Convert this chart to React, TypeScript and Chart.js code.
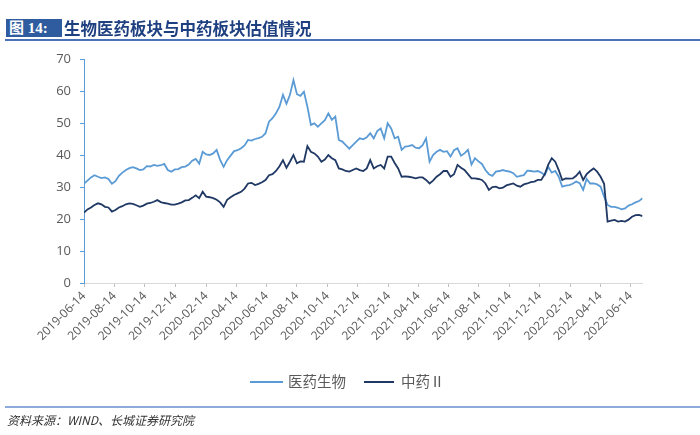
import React, { useEffect, useRef } from "react";
import { Chart, registerables } from "chart.js";

Chart.register(...registerables);

// ---- data ----
const startDate = "2019-06-14"; // first weekly observation
const weekStepDays = 7;
const seriesNames = ["医药生物", "中药Ⅱ"];
const tickLabels = [
  "2019-06-14", "2019-08-14", "2019-10-14", "2019-12-14",
  "2020-02-14", "2020-04-14", "2020-06-14", "2020-08-14",
  "2020-10-14", "2020-12-14", "2021-02-14", "2021-04-14",
  "2021-06-14", "2021-08-14", "2021-10-14", "2021-12-14",
  "2022-02-14", "2022-04-14", "2022-06-14",
];
const yTicks = [0, 10, 20, 30, 40, 50, 60, 70];

// 医药生物 (weekly)
const medValues = [
  31.1, 32.0, 33.0, 33.7, 33.2, 32.8, 33.0, 32.5, 31.0, 31.8,
  33.5, 34.5, 35.3, 35.9, 36.2, 35.8, 35.3, 35.5, 36.5, 36.4,
  36.9, 36.6, 36.8, 37.2, 35.3, 34.8, 35.5, 35.6, 36.2, 36.4,
  37.0, 38.2, 38.8, 37.3, 41.0, 40.2, 40.0, 40.5, 41.6, 38.5,
  36.3, 38.4, 39.8, 41.2, 41.5, 42.1, 43.0, 44.7, 44.5, 45.0,
  45.3, 45.7, 46.8, 50.4, 51.5, 53.0, 55.1, 58.8, 56.0, 58.8,
  63.4, 59.0, 58.5, 59.8, 55.1, 49.4, 49.9, 48.8, 49.9, 50.9,
  53.0, 51.0, 52.0, 44.7, 44.2, 43.1, 42.0, 43.1, 44.2, 45.2,
  44.9, 45.5, 46.8, 45.2, 47.5, 48.3, 45.2, 49.9, 48.3, 45.2,
  45.7, 41.6, 42.6, 42.8, 43.1, 42.3, 42.1, 43.1, 45.2, 37.9,
  40.0, 41.0, 41.6, 41.0, 41.2, 39.5, 41.5, 42.1, 39.8, 40.5,
  41.6, 37.0, 39.0, 38.0, 37.2, 35.3, 34.0, 33.5, 34.8, 35.0,
  35.3, 35.0, 34.8, 34.3, 33.2, 33.5, 33.7, 35.1, 35.0, 34.8,
  35.0, 34.5, 33.7, 36.3, 34.5, 35.0, 33.2, 30.1, 30.4, 30.6,
  31.0, 31.7, 31.2, 29.1, 32.5, 31.1, 31.1, 30.8, 30.1, 27.0,
  24.4, 23.8, 23.8, 23.5, 23.0, 23.3, 24.2, 24.6, 25.2, 25.6, 26.5,
];

// 中药Ⅱ (weekly)
const tcmValues = [
  22.0, 23.0, 23.6, 24.4, 24.9, 24.6, 23.8, 23.6, 22.3, 22.8,
  23.6, 24.0, 24.6, 24.9, 24.7, 24.3, 23.8, 24.2, 24.8, 25.0,
  25.4, 25.9, 25.3, 25.0, 24.8, 24.5, 24.5, 24.8, 25.2, 25.8,
  25.9, 26.6, 27.4, 26.5, 28.5, 27.0, 26.8, 26.5, 26.0, 25.2,
  23.8, 26.0, 26.8, 27.5, 28.0, 28.5, 29.5, 31.1, 31.3, 30.6,
  31.0, 31.5, 32.2, 33.7, 34.0, 35.0, 36.5, 38.4, 36.0, 37.9,
  40.0, 37.4, 38.0, 37.9, 42.8, 41.0, 40.5, 39.5, 37.9, 38.6,
  40.0, 39.0, 38.4, 35.8, 35.5, 35.0, 34.8, 35.3, 35.8, 35.3,
  35.0, 35.8, 38.4, 35.8, 36.5, 36.9, 35.8, 39.5, 39.5, 37.5,
  35.8, 33.2, 33.3, 33.2, 33.0, 32.7, 33.0, 33.0, 32.2, 31.1,
  32.0, 33.2, 34.0, 35.0, 35.0, 33.2, 34.0, 36.9, 36.0, 35.3,
  34.0, 32.7, 32.7, 32.5, 32.2, 31.1, 29.1, 30.0, 30.1, 29.6,
  29.8, 30.5, 30.8, 31.1, 30.4, 30.1, 30.8, 31.1, 31.5, 31.7,
  32.2, 32.2, 34.0, 37.0, 39.0, 37.9, 35.3, 32.2, 32.7, 32.6,
  32.7, 33.5, 34.8, 32.2, 34.0, 35.0, 35.8, 34.8, 33.2, 31.0,
  19.2, 19.5, 19.7, 19.2, 19.4, 19.2, 19.8, 20.7, 21.2, 21.3, 20.9,
];

// ---- helpers ----
function dayOffset(s: string): number {
  const [y, m, d] = s.split("-").map(Number);
  const [y0, m0, d0] = startDate.split("-").map(Number);
  return Math.round((Date.UTC(y, m - 1, d) - Date.UTC(y0, m0 - 1, d0)) / 86400000);
}

const tickDays = tickLabels.map(dayOffset);
const toPoints = (vals: number[]) => vals.map((v, i) => ({ x: i * weekStepDays, y: v }));
const lastDay = (medValues.length - 1) * weekStepDays;

const LIGHT = "#5b9bd5";
const DARK = "#1f3864";
const TEXT = "#595959";

export default function App() {
  const ref = useRef<HTMLCanvasElement | null>(null);

  useEffect(() => {
    if (!ref.current) return;
    const chart = new Chart(ref.current, {
      type: "line",
      data: {
        datasets: [
          {
            label: seriesNames[0],
            data: toPoints(medValues),
            borderColor: LIGHT,
            backgroundColor: LIGHT,
            borderWidth: 1.8,
            pointRadius: 0,
            tension: 0,
            order: 1,
          },
          {
            label: seriesNames[1],
            data: toPoints(tcmValues),
            borderColor: DARK,
            backgroundColor: DARK,
            borderWidth: 1.8,
            pointRadius: 0,
            tension: 0,
            order: 0,
          },
        ],
      },
      options: {
        animation: false,
        responsive: false,
        layout: { padding: { left: 0, right: 57.5, top: 59, bottom: 0 } },
        plugins: { legend: { display: false }, tooltip: { enabled: false }, title: { display: false } },
        scales: {
          x: {
            type: "linear",
            min: 0,
            max: lastDay,
            afterBuildTicks: (scale: any) => {
              scale.ticks = tickDays.map((v) => ({ value: v }));
            },
            afterFit: (scale: any) => {
              scale.height = 152;
            },
            grid: { display: true, drawOnChartArea: false, drawTicks: true, tickLength: 4, color: "#bfbfbf" },
            border: { display: true, color: "#d9d9d9", width: 1 },
            ticks: {
              autoSkip: false,
              minRotation: 45,
              maxRotation: 45,
              padding: 2,
              color: TEXT,
              font: { family: "'Open Sans', 'Liberation Sans', sans-serif", size: 12 },
              callback: (_v: any, i: number) => tickLabels[i],
            },
          },
          y: {
            type: "linear",
            min: 0,
            max: 70,
            afterBuildTicks: (scale: any) => {
              scale.ticks = yTicks.map((v) => ({ value: v }));
            },
            afterFit: (scale: any) => {
              scale.width = 84;
            },
            grid: { display: true, drawOnChartArea: false, drawTicks: true, tickLength: 4, color: LIGHT },
            border: { display: true, color: LIGHT, width: 1 },
            ticks: {
              padding: 9,
              color: TEXT,
              font: { family: "'Open Sans', 'Liberation Sans', sans-serif", size: 13 },
              callback: (v: any) => String(v),
            },
          },
        },
      },
    } as any);
    return () => chart.destroy();
  }, []);

  return (
    <div style={{ position: "fixed", left: 0, top: 0, width: 700, height: 435, background: "#fff", overflow: "hidden" }}>
      <canvas ref={ref} width={700} height={435} style={{ position: "absolute", left: 0, top: 0 }} />
      {/* header */}
      <div
        style={{
          position: "absolute", left: 6, top: 19, width: 56, height: 18,
          background: "#2e5c9e", color: "#fff",
          font: "bold 15px 'Liberation Serif', 'Noto Sans CJK SC', serif",
          lineHeight: "18px", paddingLeft: 3, boxSizing: "border-box", whiteSpace: "nowrap",
        }}
      >
        图 14:
      </div>
      <div
        style={{
          position: "absolute", left: 64, top: 16, color: "#1f4080",
          font: "bold 16.5px 'Noto Sans CJK SC', sans-serif", lineHeight: "24px", whiteSpace: "nowrap",
        }}
      >
        生物医药板块与中药板块估值情况
      </div>
      <div style={{ position: "absolute", left: 5, top: 38.5, width: 695, height: 2, background: "#4a72b8" }} />
      {/* legend */}
      <div style={{ position: "absolute", left: 250, top: 380.5, width: 33, height: 2, background: LIGHT }} />
      <div style={{ position: "absolute", left: 288, top: 371, color: TEXT, font: "14.5px 'Noto Sans CJK SC', sans-serif", lineHeight: "20px", whiteSpace: "nowrap" }}>
        {seriesNames[0]}
      </div>
      <div style={{ position: "absolute", left: 364, top: 380.5, width: 30, height: 2, background: DARK }} />
      <div style={{ position: "absolute", left: 401, top: 371, color: TEXT, font: "14.5px 'Noto Sans CJK SC', 'Liberation Serif', serif", lineHeight: "20px", whiteSpace: "nowrap" }}>
        {seriesNames[1]}
      </div>
      {/* footer */}
      <div style={{ position: "absolute", left: 5, top: 406, width: 695, height: 2, background: "#8eaadb" }} />
      <div style={{ position: "absolute", left: 7, top: 411, color: "#333", font: "italic 12px 'Noto Sans CJK SC', sans-serif", lineHeight: "18px", whiteSpace: "nowrap" }}>
        资料来源：WIND、长城证券研究院
      </div>
    </div>
  );
}
